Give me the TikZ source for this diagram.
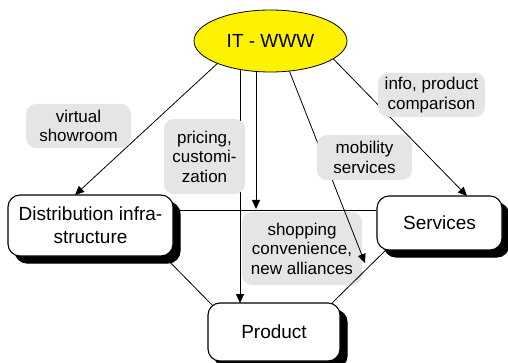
\documentclass[tikz,border=0pt]{standalone}
\usepackage{fontspec}
\setmainfont{Liberation Sans}
\usetikzlibrary{shapes.geometric,shadows,arrows.meta,backgrounds}
\definecolor{lblgray}{RGB}{229,229,229}
\begin{document}
\begin{tikzpicture}[x=1pt,y=-1pt,
  box/.style={draw,line width=1.1pt,fill=white,rounded corners=12pt,align=center,inner sep=0pt,
    font=\fontsize{19}{23}\selectfont,
    general shadow={fill=black,draw=black,shadow xshift=7pt,shadow yshift=-7pt}},
  lbl/.style={fill=lblgray,rounded corners=10pt,align=center,inner sep=0pt,
    font=\fontsize{17}{19.5}\selectfont},
  conn/.style={line width=0.8pt},
  arr/.style={conn,-{Triangle[length=9pt,width=8pt]}}]
\useasboundingbox (0,0) rectangle (508,363);

\node[box,minimum width=165pt,minimum height=61pt] (dist) at (90.5,225.5) {Distribution infra-\\structure};
\node[box,minimum width=125pt,minimum height=54pt] (serv) at (439.5,223) {Services};
\node[box,minimum width=132pt,minimum height=58pt] (prod) at (274,332) {Product};
\node[ellipse,draw,fill=yellow,line width=0.8pt,minimum width=153pt,minimum height=62pt,inner sep=0pt,
  font=\fontsize{19}{23}\selectfont] (it) at (270.5,41) {IT - WWW};

\node[lbl,minimum width=105pt,minimum height=44pt] (l1) at (78.5,126) {virtual\\showroom};
\node[lbl,minimum width=81pt,minimum height=75pt] (l2) at (204.5,156.5) {pricing,\\customi-\\zation};
\node[lbl,minimum width=95pt,minimum height=45pt] (l3) at (364.5,157.5) {mobility\\services};
\node[lbl,minimum width=107pt,minimum height=44pt] (l4) at (431.5,95) {info, product\\comparison};

\coordinate (t1) at (75,195);
\coordinate (t2) at (240,303);
\coordinate (t3) at (256,209);
\coordinate (t4) at (365,263);
\coordinate (t5) at (467,196);
\coordinate (h) at (0,210);
\coordinate (d1) at (160,252);
\coordinate (d2) at (216,309);
\coordinate (s1) at (392,244);
\coordinate (s2) at (328,307);

\begin{scope}[on background layer]
\node[lbl,minimum width=120pt,minimum height=73pt] (l5) at (302,248.5) {shopping\\convenience,\\new alliances};
\draw[arr] (it.203.8) -- (t1);
\draw[arr] (it.center -| t2) -- (t2);
\draw[arr] (it.center -| t3) -- (t3);
\draw[arr] (it.302) -- (t4);
\draw[arr] (it.344.8) -- (t5);
\draw[conn] (dist.east |- h) -- (serv.west |- h);
\draw[conn] (d1) -- (d2);
\draw[conn] (s1) -- (s2);
\end{scope}
\end{tikzpicture}
\end{document}
